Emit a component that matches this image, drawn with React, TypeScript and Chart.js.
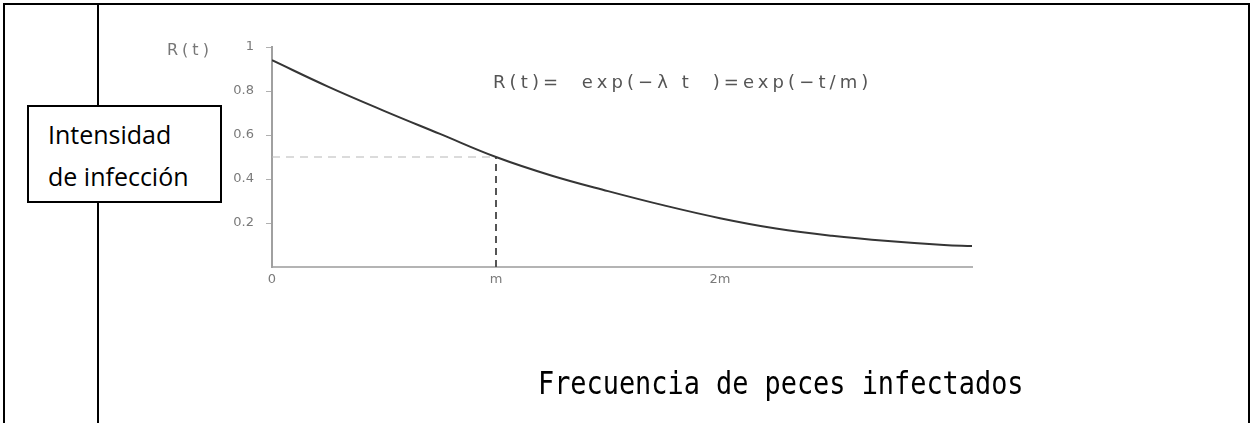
import React, { useEffect, useRef } from 'react';
import { Chart, registerables } from 'chart.js';

Chart.register(...registerables);

// Data (t in units of m)
const tValues = [0, 0.25, 0.5, 0.75, 1, 1.25, 1.5, 1.75, 2, 2.25, 2.5, 2.75, 3, 3.125];
const rValues = [0.94, 0.82, 0.71, 0.605, 0.5, 0.415, 0.345, 0.28, 0.222, 0.175, 0.142, 0.118, 0.1, 0.095];
const xTickValues = [0, 1, 2];
const xTickLabels = ['0', 'm', '2m'];
const yTickValues = [0.2, 0.4, 0.6, 0.8, 1];
const yTickLabels = ['0.2', '0.4', '0.6', '0.8', '1'];
const mValue = 1;
const halfValue = 0.5;
const xMax = 3.125;

const yAxisLabel = 'R(t)';
const formula = 'R(t)=  exp(\u2212\u03bb t  )=exp(\u2212t/m)';
const boxLines = ['Intensidad', 'de infección'];
const xAxisTitle = 'Frecuencia de peces infectados';

const W = 1252;
const H = 423;

export default function App() {
  const canvasRef = useRef<HTMLCanvasElement | null>(null);

  useEffect(() => {
    document.body.style.margin = '0';
    const canvas = canvasRef.current;
    if (!canvas) return;
    const curve = tValues.map((t, i) => ({ x: t, y: rValues[i] }));
    const chart = new Chart(canvas, {
      type: 'line',
      data: {
        datasets: [
          {
            data: curve,
            borderColor: '#353535',
            borderWidth: 2,
            pointRadius: 0,
            tension: 0.4,
            fill: false,
          },
          {
            data: [
              { x: 0, y: halfValue },
              { x: mValue, y: halfValue },
            ],
            borderColor: '#b8b8b8',
            borderWidth: 1.2,
            borderDash: [8, 6],
            pointRadius: 0,
            fill: false,
          },
          {
            data: [
              { x: mValue, y: 0 },
              { x: mValue, y: halfValue },
            ],
            borderColor: '#555555',
            borderWidth: 2,
            borderDash: [7, 5],
            pointRadius: 0,
            fill: false,
          },
        ],
      },
      options: {
        animation: false,
        responsive: false,
        devicePixelRatio: 1,
        layout: { padding: { top: 47, right: W - 972, bottom: 0, left: 0 } },
        plugins: { legend: { display: false }, tooltip: { enabled: false } },
        scales: {
          x: {
            type: 'linear',
            min: 0,
            max: xMax,
            afterFit: (s: any) => {
              s.height = H - 267;
            },
            afterBuildTicks: (s: any) => {
              s.ticks = xTickValues.map((v) => ({ value: v }));
            },
            ticks: {
              autoSkip: false,
              maxRotation: 0,
              padding: 5,
              color: '#7a7a7a',
              font: { family: 'DejaVu Sans', size: 13 },
              callback: (_v: any, i: number) => xTickLabels[i] ?? '',
            },
            grid: { display: true, drawOnChartArea: false, drawTicks: false },
            border: { display: true, color: '#b4b4b4', width: 2 },
          },
          y: {
            type: 'linear',
            min: 0,
            max: 1,
            afterFit: (s: any) => {
              s.width = 272;
            },
            afterBuildTicks: (s: any) => {
              s.ticks = yTickValues.map((v) => ({ value: v }));
            },
            ticks: {
              autoSkip: false,
              padding: 12,
              color: '#7a7a7a',
              font: { family: 'DejaVu Sans', size: 13 },
              callback: (_v: any, i: number) => yTickLabels[i] ?? '',
            },
            grid: {
              display: true,
              drawOnChartArea: false,
              drawTicks: true,
              tickLength: 6,
              color: '#b0b0b0',
            },
            border: { display: true, color: '#a0a0a0', width: 2 },
          },
        },
      },
    });
    return () => chart.destroy();
  }, []);

  return (
    <div
      style={{
        position: 'fixed',
        left: 0,
        top: 0,
        width: W,
        height: H,
        background: '#fff',
        overflow: 'hidden',
      }}
    >
      {/* table frame */}
      <div
        style={{
          position: 'absolute',
          left: 3,
          top: 3,
          width: 1247 - 4,
          height: H,
          borderTop: '2px solid #000',
          borderLeft: '2px solid #000',
          borderRight: '2px solid #000',
        }}
      />
      <div
        style={{
          position: 'absolute',
          left: 97,
          top: 3,
          width: 2,
          height: H,
          background: '#000',
        }}
      />
      <canvas
        ref={canvasRef}
        width={W}
        height={H}
        style={{ position: 'absolute', left: 0, top: 0, width: W, height: H }}
      />
      {/* y axis label */}
      <div
        style={{
          position: 'absolute',
          left: 167,
          top: 39,
          fontFamily: 'DejaVu Sans',
          fontSize: 16,
          letterSpacing: 4,
          color: '#777',
          lineHeight: '22px',
          whiteSpace: 'pre',
        }}
      >
        {yAxisLabel}
      </div>
      {/* formula */}
      <div
        style={{
          position: 'absolute',
          left: 493,
          top: 71,
          fontFamily: 'DejaVu Sans',
          fontSize: 18,
          letterSpacing: 4.1,
          color: '#555',
          lineHeight: '22px',
          whiteSpace: 'pre',
        }}
      >
        {formula}
      </div>
      {/* box */}
      <div
        style={{
          position: 'absolute',
          left: 27,
          top: 105,
          width: 195 - 4,
          height: 98 - 4,
          border: '2px solid #000',
          background: '#fff',
        }}
      />
      <div
        style={{
          position: 'absolute',
          left: 48,
          top: 113,
          fontFamily: '"Open Sans"',
          fontSize: 25,
          lineHeight: '42px',
          color: '#000',
          whiteSpace: 'pre',
        }}
      >
        {boxLines.join('\n')}
      </div>
      {/* bottom title */}
      <div
        style={{
          position: 'absolute',
          left: 538,
          top: 367,
          fontFamily: '"DejaVu Sans Mono"',
          fontSize: 32,
          lineHeight: '32px',
          color: '#000',
          whiteSpace: 'pre',
          transform: 'scaleX(0.84)',
          transformOrigin: 'left top',
        }}
      >
        {xAxisTitle}
      </div>
    </div>
  );
}
